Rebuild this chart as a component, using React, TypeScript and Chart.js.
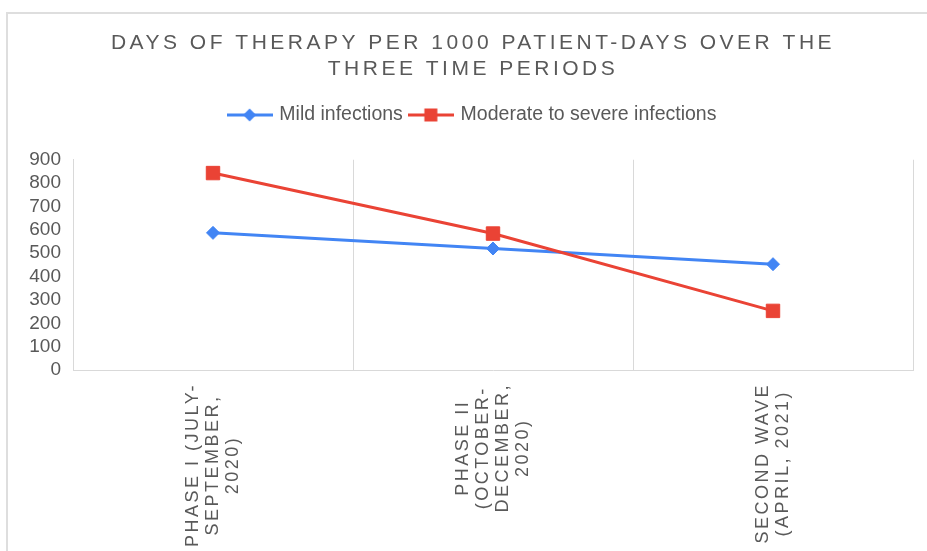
import React, { useEffect, useRef } from 'react';
import { Chart, registerables } from 'chart.js';

Chart.register(...registerables);

// ---------- data ----------
const TITLE_LINES = ['DAYS OF THERAPY PER 1000 PATIENT-DAYS OVER THE', 'THREE TIME PERIODS'];
const CATEGORIES = [
  ['PHASE I (JULY-', 'SEPTEMBER,', '2020)'],
  ['PHASE II', '(OCTOBER-', 'DECEMBER,', '2020)'],
  ['SECOND WAVE', '(APRIL, 2021)'],
];
const SERIES_NAMES = ['Mild infections', 'Moderate to severe infections'];
const MILD = [587, 520, 453];
const MODERATE = [843, 584, 253];
const Y_MIN = 0;
const Y_MAX = 900;
const Y_STEP = 100;

// ---------- styles ----------
const W = 927;
const H = 551;
const FONT = '"Liberation Sans", Arial, Helvetica, sans-serif';
const TEXT = '#595959';
const GRID = '#d9d9d9';
const BLUE = '#4285F4';
const RED = '#EA4335';
const LEGEND_EXTRA = 25;
const TITLE_SPACING = '3.5px';
const XLABEL_SPACING = '2.5px';

function makeIcon(color: string, kind: 'diamond' | 'square') {
  const c = document.createElement('canvas');
  c.width = 46;
  c.height = 18;
  const g = c.getContext('2d')!;
  g.strokeStyle = color;
  g.fillStyle = color;
  g.lineWidth = 3;
  g.beginPath();
  g.moveTo(0, 9);
  g.lineTo(46, 9);
  g.stroke();
  g.beginPath();
  if (kind === 'diamond') {
    g.moveTo(23, 2.5);
    g.lineTo(29.5, 9);
    g.lineTo(23, 15.5);
    g.lineTo(16.5, 9);
    g.closePath();
  } else {
    g.rect(16.5, 2.5, 13, 13);
  }
  g.fill();
  return c;
}

const patchPlugin = {
  id: 'patchBoxes',
  beforeLayout(chart: any) {
    const lg = chart.legend;
    if (lg && !lg.__patched) {
      const of = lg.fit.bind(lg);
      lg.fit = function () {
        of();
        this.height += LEGEND_EXTRA;
      };
      lg.__patched = true;
    }
    const tb = chart.titleBlock;
    if (tb && !tb.__patched) {
      const od = tb.draw.bind(tb);
      tb.draw = function () {
        const c = this.ctx;
        c.save();
        (c as any).letterSpacing = TITLE_SPACING;
        od();
        c.restore();
      };
      tb.__patched = true;
    }
  },
};

const xLabelPlugin = {
  id: 'xLabels',
  afterDraw(chart: any) {
    const ctx = chart.ctx as CanvasRenderingContext2D;
    const xs = chart.scales.x;
    const labels = chart.data.labels as string[][];
    ctx.save();
    ctx.font = `18px ${FONT}`;
    (ctx as any).letterSpacing = XLABEL_SPACING;
    ctx.fillStyle = TEXT;
    ctx.textAlign = 'center';
    ctx.textBaseline = 'middle';
    const lineH = 20;
    labels.forEach((lines, i) => {
      const x = xs.getPixelForTick(i);
      const maxW = Math.max(...lines.map((l) => ctx.measureText(l).width));
      const cy = xs.top + 13 + maxW / 2;
      ctx.save();
      ctx.translate(x, cy);
      ctx.rotate(-Math.PI / 2);
      lines.forEach((l, j) => {
        ctx.fillText(l, 0, (j - (lines.length - 1) / 2) * lineH);
      });
      ctx.restore();
    });
    ctx.restore();
  },
};

export default function App() {
  const ref = useRef<HTMLCanvasElement>(null);

  useEffect(() => {
    if (!ref.current) return;
    Chart.defaults.font.family = FONT;
    const icons = [makeIcon(BLUE, 'diamond'), makeIcon(RED, 'square')];
    const colors = [BLUE, RED];
    const chart = new Chart(ref.current, {
      type: 'line',
      data: {
        labels: CATEGORIES,
        datasets: [
          {
            label: SERIES_NAMES[0],
            data: MILD,
            borderColor: BLUE,
            backgroundColor: BLUE,
            borderWidth: 3,
            pointStyle: 'rectRot',
            pointRadius: 6.5,
            pointBorderWidth: 1,
            tension: 0,
            order: 1,
          },
          {
            label: SERIES_NAMES[1],
            data: MODERATE,
            borderColor: RED,
            backgroundColor: RED,
            borderWidth: 3,
            pointStyle: 'rect',
            pointRadius: 9.5,
            pointBorderWidth: 1,
            tension: 0,
            order: 0,
          },
        ],
      },
      options: {
        responsive: false,
        animation: false,
        devicePixelRatio: 1,
        layout: { padding: { left: 19, right: 0, top: 0, bottom: 0 } },
        plugins: {
          tooltip: { enabled: false },
          title: {
            display: true,
            text: TITLE_LINES,
            color: TEXT,
            font: { size: 21, weight: 'normal', lineHeight: 26 / 21, family: FONT },
            padding: { top: 30, bottom: 15.25 },
          },
          legend: {
            display: true,
            position: 'top',
            labels: {
              color: TEXT,
              font: { size: 19.5, family: FONT },
              padding: 8,
              usePointStyle: true,
              pointStyleWidth: 40,
              generateLabels: (ch: any) =>
                ch.data.datasets.map((ds: any, i: number) => ({
                  text: ds.label,
                  fillStyle: colors[i],
                  strokeStyle: colors[i],
                  fontColor: TEXT,
                  lineWidth: 0,
                  pointStyle: icons[i],
                  hidden: false,
                  datasetIndex: i,
                })),
            },
          },
        },
        scales: {
          x: {
            type: 'category',
            offset: true,
            grid: { display: true, offset: true, color: GRID, lineWidth: 1, drawTicks: false },
            border: { display: true, color: GRID, width: 1 },
            ticks: { display: false },
            afterFit: (s: any) => {
              s.height = H - 370;
            },
          },
          y: {
            min: Y_MIN,
            max: Y_MAX,
            grid: { display: false, drawTicks: false },
            border: { display: true, color: GRID, width: 1 },
            ticks: {
              stepSize: Y_STEP,
              autoSkip: false,
              color: TEXT,
              font: { size: 19, family: FONT },
              padding: 12,
            },
            afterFit: (s: any) => {
              s.width = 73 - 19;
            },
          },
          yRight: {
            position: 'right',
            display: true,
            min: Y_MIN,
            max: Y_MAX,
            grid: { display: false, drawTicks: false },
            border: { display: false },
            ticks: { display: false },
            afterFit: (s: any) => {
              s.width = W - 913;
            },
          },
        },
      } as any,
      plugins: [patchPlugin, xLabelPlugin],
    });
    return () => chart.destroy();
  }, []);

  return (
    <div
      style={{
        position: 'fixed',
        left: 0,
        top: 0,
        width: W,
        height: H,
        overflow: 'hidden',
        background: '#fff',
      }}
    >
      <div
        style={{
          position: 'absolute',
          left: 6,
          top: 12,
          width: 1000,
          height: 1000,
          borderLeft: '2px solid #dedede',
          borderTop: '2px solid #dedede',
        }}
      />
      <canvas
        ref={ref}
        width={W}
        height={H}
        style={{ position: 'absolute', left: 0, top: 0, width: W, height: H }}
      />
    </div>
  );
}
